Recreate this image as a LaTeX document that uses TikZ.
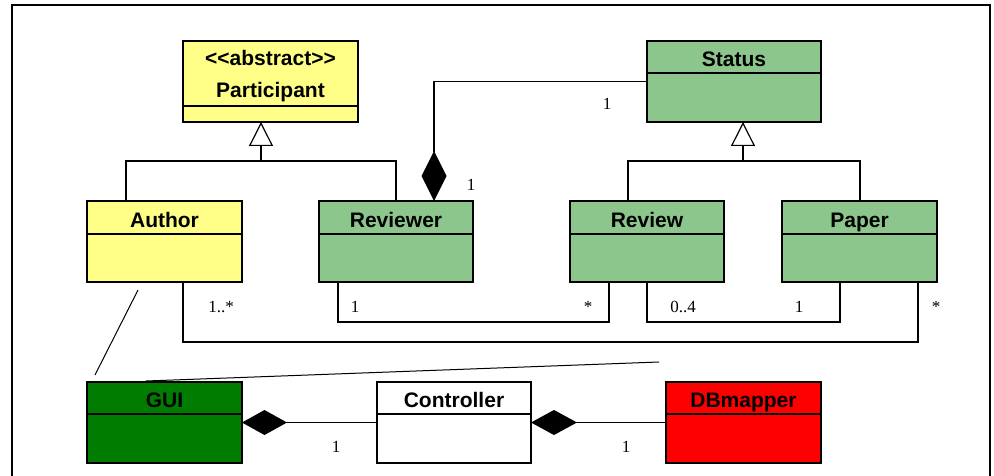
\documentclass[tikz,border=0pt]{standalone}
\usepackage{fontspec}
\setmainfont{Liberation Sans}
\newfontfamily\multfont{Liberation Serif}
\usetikzlibrary{arrows.meta,calc}

\definecolor{clsyellow}{RGB}{255,255,136}
\definecolor{clsgreen}{RGB}{141,198,141}
\definecolor{guigreen}{RGB}{0,125,0}
\definecolor{dbred}{RGB}{255,0,0}

% class box: name, x, y, width, fill, header height, title
\newcommand\umlbox[7]{%
  \node[cls, minimum width=#4pt, fill=#5] (#1) at (#2,#3) {};
  \draw[divider] ($(#1.north west)+(0,#6)$) -- ($(#1.north east)+(0,#6)$);
  \node[title] at ($(#1.north)+(0,#6/2+9.5)$) {#7};
}

\begin{document}
\begin{tikzpicture}[x=1pt,y=-1pt,
  cls/.style={draw, line width=1.3pt, anchor=north west, minimum height=81pt,
              inner sep=0pt, outer sep=0pt},
  divider/.style={line width=1.3pt},
  title/.style={font=\bfseries\fontsize{21}{24}\selectfont, inner sep=0pt, anchor=base},
  mult/.style={font=\multfont\fontsize{17}{19}\selectfont, anchor=base, inner sep=0pt},
  link/.style={line width=1.2pt},
  freeline/.style={line width=1pt},
  generalize/.style={link, -{Triangle[open, length=24pt, width=24pt]}},
  compose/.style={link, {Diamond[length=#1, width=25pt]}-},
  compose/.default=50pt]

\useasboundingbox (0,0) rectangle (994,476);

% outer frame
\draw[line width=2pt] (12,476) -- (12,5) -- (990,5) -- (990,476);

% abstract participant
\node[cls, minimum width=175pt, fill=clsyellow] (participant) at (183,41) {};
\draw[divider] ($(participant.north west)+(0,65)$) -- ($(participant.north east)+(0,65)$);
\node[title] at ($(participant.north)+(0,25)$) {{<}{<}abstract{>}{>}};
\node[title] at ($(participant.north)+(0,57)$) {Participant};

% classes
\umlbox{status}{647}{41}{174}{clsgreen}{32}{Status}
\umlbox{author}{87}{201}{155}{clsyellow}{33}{Author}
\umlbox{reviewer}{319}{201}{154}{clsgreen}{33}{Reviewer}
\umlbox{review}{570}{201}{154}{clsgreen}{33}{Review}
\umlbox{paper}{782}{201}{155}{clsgreen}{33}{Paper}
\umlbox{gui}{87}{382}{155}{guigreen}{32}{GUI}
\umlbox{controller}{377}{382}{154}{white}{32}{Controller}
\umlbox{dbmapper}{666}{382}{155}{dbred}{32}{DBmapper}

% generalizations
\coordinate (genP) at (261,161);
\draw[link] ([xshift=39pt]author.north west) |- (genP) -| ([xshift=77pt]reviewer.north west);
\draw[generalize] (genP) -- ([xshift=-9.5pt]participant.south);

\coordinate (genS) at (743,161);
\draw[link] ([xshift=58pt]review.north west) |- (genS) -| ([xshift=78pt]paper.north west);
\draw[generalize] (genS) -- ([xshift=9pt]status.south);

% reviewer -- status composition
\draw[compose] ([xshift=115pt]reviewer.north west) |- (status.west);
\node[mult] at (471,191) {1};
\node[mult] at (607,110) {1};

% associations below the classes
\draw[link] ([xshift=19pt]reviewer.south west) -- ++(0,40) -| ([xshift=39pt]review.south west);
\node[mult] at (355,312) {1};
\node[mult] at (588,312) {*};

\draw[link] ([xshift=77pt]review.south west) -- ++(0,40) -| ([xshift=58pt]paper.south west);
\node[mult] at (683,312) {0..4};
\node[mult] at (799,312) {1};

\draw[link] ([xshift=96pt]author.south west) -- ++(0,60) -| ([xshift=136pt]paper.south west);
\node[mult] at (221,312) {1..*};
\node[mult] at (936,312) {*};

% loose strokes near the GUI
\coordinate (au1) at (138,290);
\coordinate (au2) at (95,375);
\draw[freeline] (au1) -- (au2);
\coordinate (gu1) at (146,381);
\coordinate (gu2) at (659,362);
\draw[freeline] (gu1) -- (gu2);

% gui -- controller -- dbmapper compositions
\draw[compose=45pt] (gui.east) -- (controller.west);
\node[mult] at (336,452) {1};
\draw[compose=46pt] (controller.east) -- (dbmapper.west);
\node[mult] at (626,452) {1};

\end{tikzpicture}
\end{document}
